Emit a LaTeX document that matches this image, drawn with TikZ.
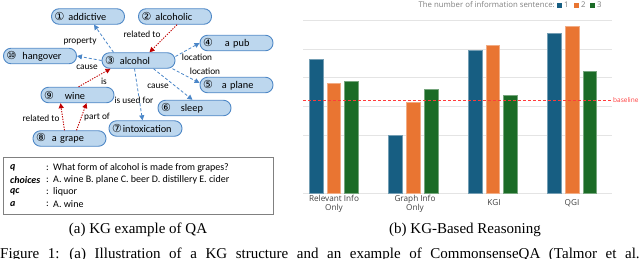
\documentclass[tikz,border=0pt]{standalone}
\usepackage{fontspec}
\setmainfont{Liberation Serif}
\newfontfamily\carl{Carlito}
\newfontfamily\circf{DejaVu Sans}
\newfontfamily\osans{Open Sans}
\usetikzlibrary{arrows.meta}
\definecolor{nodefill}{HTML}{BDD7EE}
\definecolor{nodeline}{HTML}{4F88C6}
\definecolor{edgeblue}{HTML}{4A86C8}
\definecolor{edgered}{HTML}{C00000}
\definecolor{barblue}{HTML}{175E82}
\definecolor{barorange}{HTML}{E97532}
\definecolor{bargreen}{HTML}{1B6B26}
\definecolor{gridc}{HTML}{E4E4E4}
\definecolor{basered}{HTML}{FF3B3B}
\definecolor{boxline}{HTML}{808080}
\definecolor{lblgray}{HTML}{404040}
\newcommand\kgn[3]{{\circf\fontsize{11}{12}\selectfont #1}\hspace{#2}#3}
\tikzset{
  kgnode/.style={draw=nodeline, fill=nodefill, line width=0.9pt, rounded corners=7.5pt,
    minimum height=15.5pt, minimum width=73pt, text width=67pt, align=left,
    inner xsep=3pt, inner ysep=0pt, font=\carl\fontsize{10.3}{12}\selectfont},
  be/.style={draw=edgeblue, dash pattern=on 3pt off 2pt, line width=0.8pt,
    -{Triangle[length=5pt,width=5pt]}},
  re/.style={draw=edgered, dash pattern=on 1.3pt off 1.3pt, line width=0.9pt,
    -{Triangle[length=5pt,width=5pt]}},
  elab/.style={font=\carl\fontsize{9.3}{10}\selectfont, inner sep=0pt},
  qalab/.style={anchor=west, inner sep=0pt, font=\carl\fontsize{10}{11}\selectfont},
  catlab/.style={font=\osans\fontsize{8.2}{9}\selectfont, text=lblgray, inner sep=0pt, align=center},
  grid/.style={draw=gridc, line width=0.8pt},
  barb/.style={fill=barblue, draw=barblue!60!white, line width=0.6pt},
  baro/.style={fill=barorange, draw=barorange!60!white, line width=0.6pt},
  barg/.style={fill=bargreen, draw=bargreen!60!white, line width=0.6pt},
  capt/.style={font=\fontsize{15}{17}\selectfont, inner sep=0pt},
  legtxt/.style={font=\osans\fontsize{7.8}{8}\selectfont, text=gray, inner sep=0pt}
}
\begin{document}
\begin{tikzpicture}[x=1pt,y=-1pt]
\useasboundingbox (0,0) rectangle (640,258);
\clip (0,0) rectangle (640,258);
% ---------- KG nodes ----------
\node[kgnode] (n1) at (88,16.5) {\kgn{①}{4pt}{addictive}};
\node[kgnode] (n2) at (175,16.5) {\kgn{②}{4pt}{alcoholic}};
\node[kgnode] (n4) at (236.5,43) {\kgn{④}{12pt}{a pub}};
\node[kgnode] (n10) at (40,56) {\kgn{⑩}{6pt}{hangover}};
\node[kgnode] (n3) at (138.5,60.5) {\kgn{③}{5pt}{alcohol}};
\node[kgnode] (n5) at (236.5,85) {\kgn{⑤}{9pt}{a plane}};
\node[kgnode] (n9) at (77.5,95) {\kgn{⑨}{11pt}{wine}};
\node[kgnode] (n6) at (194.5,108) {\kgn{⑥}{10pt}{sleep}};
\node[kgnode] (n7) at (145.5,128.5) {\kgn{⑦}{1pt}{intoxication}};
\node[kgnode] (n8) at (69.5,138.5) {\kgn{⑧}{6pt}{a grape}};
% ---------- KG edges ----------
\draw[be] ([xshift=-25pt]n3.north) -- ([xshift=6pt]n1.south);
\draw[re] ([xshift=2pt]n2.south) -- ([xshift=11pt]n3.north);
\draw[be] (n3.west) -- (n10.east);
\draw[be] ([yshift=4pt]n3.east) -- (n4.west);
\draw[be] ([xshift=-3pt]n3.south east) -- ([yshift=2pt]n5.west);
\draw[be] ([xshift=15pt]n3.south) -- ([xshift=-2pt]n6.north);
\draw[be] ([xshift=-4pt]n3.south) -- ([xshift=-3pt]n7.north);
\draw[re] ([xshift=1pt]n9.north) -- ([xshift=-28pt]n3.south);
\draw[re] ([xshift=-5pt]n8.north) -- ([xshift=-17pt]n9.south);
\draw[re] ([xshift=7pt]n8.north) -- ([xshift=9pt]n9.south);
% ---------- edge labels ----------
\node[elab] (l1) at (80,41) {property};
\node[elab] (l2) at (142,34) {related to};
\node[elab] (l3) at (87,67) {cause};
\node[elab] (l4) at (197,57) {location};
\node[elab] (l5) at (205,71) {location};
\node[elab] (l6) at (158,86) {cause};
\node[elab] (l7) at (134,100) {is used for};
\node[elab] (l8) at (104,81) {is};
\node[elab] (l9) at (41,118) {related to};
\node[elab] (l10) at (97,117) {part of};
% ---------- QA box ----------
\node[draw=boxline, line width=0.9pt, minimum width=270pt, minimum height=57pt, inner sep=0pt] (qa) at (138,185.5) {};
\node[qalab] (qk1) at (10,168) {\bfseries\itshape q};
\node[qalab] (qk2) at (10,180) {\bfseries\itshape choices};
\node[qalab] (qk3) at (10,192) {\bfseries\itshape qc};
\node[qalab] (qk4) at (10,204) {\bfseries\itshape a};
\node[qalab] (qc1) at (46,168) {:};
\node[qalab] (qc2) at (46,180) {:};
\node[qalab] (qc3) at (46,192) {:};
\node[qalab] (qc4) at (46,204) {:};
\node[qalab] (qv1) at (53,168) {What form of alcohol is made from grapes?};
\node[qalab] (qv2) at (53,180) {A. wine B. plane C. beer D. distillery E. cider};
\node[qalab] (qv3) at (53,192) {liquor};
\node[qalab] (qv4) at (53,204) {A. wine};
% ---------- chart ----------
\foreach \y in {20,49,77.5,106.5,135,193} \draw[grid] (303,\y) -- (612,\y);
% group 1
\draw[barb] (309,193) rectangle (323,59);
\draw[baro] (327,193) rectangle (340,83);
\draw[barg] (344,193) rectangle (358,81);
% group 2
\draw[barb] (388,193) rectangle (402,135);
\draw[baro] (406,193) rectangle (420,102);
\draw[barg] (424,193) rectangle (438,89);
% group 3
\draw[barb] (468,193) rectangle (482,50);
\draw[baro] (486,193) rectangle (499,45);
\draw[barg] (503,193) rectangle (517,95);
% group 4
\draw[barb] (547,193) rectangle (561,33);
\draw[baro] (565,193) rectangle (579,26);
\draw[barg] (583,193) rectangle (596,71);
% baseline
\draw[basered, line width=0.7pt, dash pattern=on 3pt off 2pt] (303,100) -- (612,100);
\node[font=\osans\fontsize{6.5}{7}\selectfont, text=basered, anchor=west, inner sep=0pt] (bl) at (613,100.5) {baseline};
% category labels
\node[catlab] (c1) at (334,204) {Relevant Info\\Only};
\node[catlab] (c2) at (415,204) {Graph Info\\Only};
\node[catlab] (c3) at (494,203) {KGI};
\node[catlab] (c4) at (572,203) {QGI};
% legend
\node[legtxt, anchor=east] (lg) at (555,4.5) {The number of information sentence:};
\fill[barblue] (557,2.5) rectangle (562,7.5);
\node[legtxt, anchor=west] (lg1) at (564,4.5) {1};
\fill[barorange] (574,2.5) rectangle (579,7.5);
\node[legtxt, anchor=west] (lg2) at (581,4.5) {2};
\fill[bargreen] (590,2.5) rectangle (595,7.5);
\node[legtxt, anchor=west] (lg3) at (597,4.5) {3};
% captions
\node[capt] (ca) at (138,230) {(a) KG example of QA};
\node[capt] (cb) at (465,230) {(b) KG-Based Reasoning};
\node[capt, anchor=base west] (cf) at (0,258) {\spaceskip=8.6pt plus 1pt Figure 1: (a) Illustration of a KG structure and an example of CommonsenseQA (Talmor et al.};
\end{tikzpicture}
\end{document}
